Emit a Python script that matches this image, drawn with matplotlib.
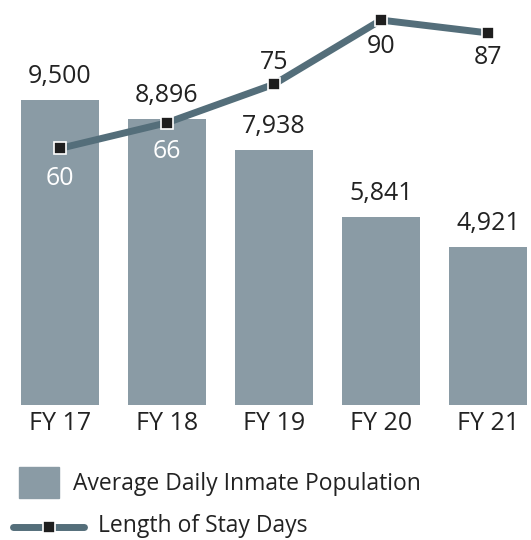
import numpy as np
import matplotlib
matplotlib.use("Agg")
import matplotlib.pyplot as plt
from matplotlib.patches import Rectangle
from matplotlib.lines import Line2D

plt.rcParams['font.family'] = ['Open Sans', 'DejaVu Sans']

# ----- Data -----
years = ['FY 17', 'FY 18', 'FY 19', 'FY 20', 'FY 21']
population = [9500, 8896, 7938, 5841, 4921]
stay_days = [60, 66, 75, 90, 87]
# label placement for the line values: pixel offset from the marker, text colour
stay_offsets = [-30, -29, 22, -26, -25]
stay_colors = ['white', 'white', '#222222', '#222222', '#222222']

bar_color = '#8a9ba5'
line_color = '#546e7a'
text_color = '#222222'

# ----- Plot -----
fig = plt.figure(figsize=(5.31, 5.40), dpi=100)
ax = fig.add_axes([0, 0.25, 1, 0.75])
x = np.arange(len(years))

ax.bar(x, population, width=0.73, color=bar_color, zorder=1)
ax.set_xlim(-0.561, 4.402)
ax.set_ylim(0, 12615)
for xi, v in zip(x, population):
    ax.annotate(f'{v:,}', (xi, v), xytext=(0, 24), textcoords='offset pixels',
                ha='center', va='center', fontsize=18, color=text_color)

ax.set_xticks(x)
ax.set_xticklabels(years, fontsize=18, color=text_color)
ax.tick_params(axis='x', length=0, pad=4)
ax.set_yticks([])
for s in ax.spines.values():
    s.set_visible(False)

ax2 = ax.twinx()
ax2.set_ylim(0, 94.7)
ax2.plot(x, stay_days, color=line_color, lw=5, marker='s', ms=8,
         mfc='#1e1e1e', mec='white', mew=1.2, zorder=3)
for xi, v, off, c in zip(x, stay_days, stay_offsets, stay_colors):
    ax2.annotate(str(v), (xi, v), xytext=(0, off), textcoords='offset pixels',
                 ha='center', va='center', fontsize=18, color=c)
ax2.set_yticks([])
for s in ax2.spines.values():
    s.set_visible(False)

# ----- Legend -----
W, H = 531, 540
fig.patches.append(Rectangle((19 / W, 1 - 498 / H), 40 / W, 31 / H,
                             transform=fig.transFigure, color=bar_color))
fig.text(73 / W, 1 - 484 / H, 'Average Daily Inmate Population',
         fontsize=16.5, color=text_color, va='center', ha='left')
fig.lines.append(Line2D([13 / W, 84 / W], [1 - 527 / H, 1 - 527 / H],
                        transform=fig.transFigure, color=line_color, lw=5,
                        solid_capstyle='round'))
fig.lines.append(Line2D([48.5 / W], [1 - 527 / H], transform=fig.transFigure,
                        marker='s', ms=8, mfc='#1e1e1e', mec='white', mew=1.2))
fig.text(98 / W, 1 - 526 / H, 'Length of Stay Days',
         fontsize=16.5, color=text_color, va='center', ha='left')

fig.savefig('out.png', dpi=100)
